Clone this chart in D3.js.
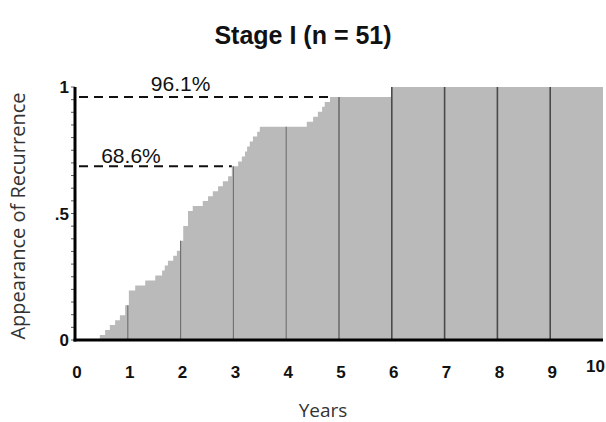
<!DOCTYPE html>
<meta charset="utf-8">
<script src="https://d3js.org/d3.v7.min.js"></script>
<style>
  body { margin: 0; background: #fff; }
</style>
<div id="chart"></div>
<script>
// Stage I cohort, n = 51
const nPatients = 51;
// year of each step and cumulative number of recurrences at that step
const stepYears = [0.47, 0.57, 0.66, 0.76, 0.85, 0.95, 1.02, 1.14, 1.33, 1.52,
  1.65, 1.70, 1.76, 1.86, 1.93, 1.99, 2.05, 2.14, 2.23, 2.42,
  2.52, 2.61, 2.71, 2.80, 2.90, 2.97, 3.09, 3.16, 3.22, 3.26,
  3.31, 3.37, 3.45, 3.50, 4.39, 4.51, 4.60, 4.68, 4.73, 4.83, 6.0];
const stepCounts = [1, 2, 3, 4, 5, 7, 10, 11, 12, 13,
  14, 15, 16, 17, 18, 20, 23, 26, 27, 28,
  29, 30, 31, 32, 33, 35, 36, 37, 38, 39,
  40, 41, 42, 43, 44, 45, 46, 47, 48, 49, 51];

const refCounts = [35, 49];
const refLabels = ["68.6%", "96.1%"];
const refLabelYears = [1.06, 2.0];

const xTicks = [0, 1, 2, 3, 4, 5, 6, 7, 8, 9, 10];
const yTicks = [0, 0.5, 1];
const yTickLabels = ["0", ".5", "1"];

const width = 606, height = 422;

const svg = d3.select("#chart").append("svg")
  .attr("width", width)
  .attr("height", height);

const x = d3.scaleLinear().domain([0, 10]).range([75, 603]);
const y = d3.scaleLinear().domain([0, 1]).range([340, 87]);

// step points
const pts = [[0, 0]].concat(stepYears.map((t, i) => [t, stepCounts[i] / nPatients]));
pts.push([10, stepCounts[stepCounts.length - 1] / nPatients]);

const valueAt = t => {
  let v = 0;
  pts.forEach(p => { if (p[0] <= t) v = p[1]; });
  return v;
};

// filled area
svg.append("path")
  .datum(pts)
  .attr("fill", "#bababa")
  .attr("d", d3.area()
    .curve(d3.curveStepAfter)
    .x(d => x(d[0]))
    .y0(y(0))
    .y1(d => y(d[1])));

// year lines inside the area
svg.selectAll("line.year")
  .data(xTicks.filter(t => t > 0 && t < 10))
  .join("line")
    .attr("class", "year")
    .attr("x1", d => x(d)).attr("x2", d => x(d))
    .attr("y1", y(0))
    .attr("y2", d => y(valueAt(d)))
    .attr("stroke", d => d >= 5 ? "#4a4a4a" : "#6e6e6e")
    .attr("stroke-width", d => d >= 6 ? 1.6 : 1.1);

// dashed reference lines
refCounts.forEach((c, i) => {
  const lvl = c / nPatients;
  const reachYear = stepYears[stepCounts.findIndex(k => k >= c)];
  svg.append("line")
    .attr("x1", x(0) + 4).attr("x2", x(reachYear))
    .attr("y1", y(lvl)).attr("y2", y(lvl))
    .attr("stroke", "#111")
    .attr("stroke-width", 2)
    .attr("stroke-dasharray", "9,6");
  svg.append("text")
    .attr("x", x(refLabelYears[i]))
    .attr("y", y(lvl) - (i === 1 ? 6 : 3))
    .attr("text-anchor", "middle")
    .style("font-family", "'Liberation Sans', Arial, sans-serif")
    .style("font-size", "21px")
    .attr("fill", "#111")
    .text(refLabels[i]);
});

// minor ticks on y axis
svg.selectAll("line.minor")
  .data(d3.range(0, 1.001, 0.05))
  .join("line")
    .attr("class", "minor")
    .attr("x1", x(0) - 4).attr("x2", x(0))
    .attr("y1", d => y(d)).attr("y2", d => y(d))
    .attr("stroke", "#333")
    .attr("stroke-width", 0.8);

// axes lines
svg.append("line")
  .attr("x1", x(0)).attr("x2", x(0))
  .attr("y1", y(1)).attr("y2", y(0) + 1.5)
  .attr("stroke", "#000").attr("stroke-width", 3);
svg.append("line")
  .attr("x1", x(0) - 1.5).attr("x2", x(10))
  .attr("y1", y(0)).attr("y2", y(0))
  .attr("stroke", "#000").attr("stroke-width", 3);

// tick labels
const tickFont = "'Liberation Sans', Arial, sans-serif";
svg.selectAll("text.xt")
  .data(xTicks)
  .join("text")
    .attr("class", "xt")
    .attr("x", d => d === 10 ? 605 : x(d) + 2)
    .attr("y", d => d === 10 ? 372 : 378)
    .attr("text-anchor", d => d === 10 ? "end" : "middle")
    .style("font-family", tickFont)
    .style("font-size", "17px")
    .style("font-weight", "bold")
    .attr("fill", "#111")
    .text(d => d);

svg.selectAll("text.yt")
  .data(yTicks)
  .join("text")
    .attr("class", "yt")
    .attr("x", 69)
    .attr("y", d => y(d) + 6)
    .attr("text-anchor", "end")
    .style("font-family", tickFont)
    .style("font-size", "17px")
    .style("font-weight", "bold")
    .attr("fill", "#111")
    .text((d, i) => yTickLabels[i]);

// title
svg.append("text")
  .attr("x", 303).attr("y", 44)
  .attr("text-anchor", "middle")
  .style("font-family", "'Liberation Sans', Arial, sans-serif")
  .style("font-size", "25px")
  .style("font-weight", "bold")
  .attr("fill", "#111")
  .text("Stage I (n = 51)");

// axis titles
svg.append("text")
  .attr("x", 323).attr("y", 417)
  .attr("text-anchor", "middle")
  .style("font-family", "'Open Sans', sans-serif")
  .style("font-size", "19px")
  .attr("fill", "#333")
  .text("Years");

svg.append("text")
  .attr("transform", "translate(25,216) rotate(-90)")
  .attr("text-anchor", "middle")
  .style("font-family", "'Open Sans', sans-serif")
  .style("font-size", "20px")
  .attr("fill", "#333")
  .text("Appearance of Recurrence");
</script>
